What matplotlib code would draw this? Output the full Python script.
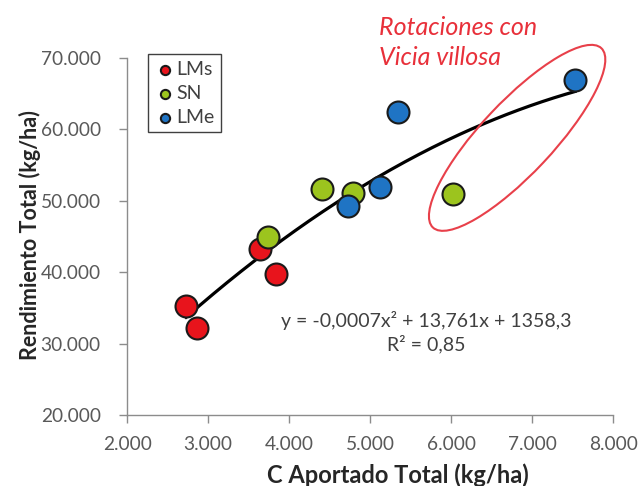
import matplotlib
matplotlib.use("Agg")
import matplotlib.pyplot as plt
import numpy as np
from matplotlib.patches import Ellipse
from matplotlib.transforms import ScaledTranslation
from matplotlib.ticker import FuncFormatter

# data
lms_x = [2728, 2860, 3642, 3840]
lms_y = [35270, 32190, 43200, 39700]
sn_x = [3741, 4407, 4790, 6025]
sn_y = [44970, 51650, 51100, 50950]
lme_x = [4728, 5123, 5346, 7531]
lme_y = [49270, 51930, 62440, 66920]

coef = [-0.0007, 13.761, 1358.3]
x_ticks = [2000, 3000, 4000, 5000, 6000, 7000, 8000]
y_ticks = [20000, 30000, 40000, 50000, 60000, 70000]

plt.rcParams["font.family"] = ["Lato", "DejaVu Sans"]

fig = plt.figure(figsize=(6.42, 4.86), dpi=100)
ax = fig.add_axes([0.198, 0.146, 0.757, 0.735])

series = [
    ("LMs", lms_x, lms_y, "#e8141c"),
    ("SN", sn_x, sn_y, "#9cc41e"),
    ("LMe", lme_x, lme_y, "#1f74c4"),
]

all_x = lms_x + sn_x + lme_x
xs = np.linspace(min(all_x), max(all_x), 200)
ax.plot(xs, np.polyval(coef, xs), color="black", lw=2.3, zorder=2)

for name, x, y, color in series:
    ax.scatter(x, y, s=250, color=color, edgecolor="#1a1a1a", linewidth=1.5,
               zorder=3, label=name)

ax.set_xlim(2000, 8000)
ax.set_ylim(20000, 70000)
ax.set_xticks(x_ticks)
ax.set_yticks(y_ticks)
fmt = FuncFormatter(lambda v, p: f"{int(v):,}".replace(",", "."))
ax.xaxis.set_major_formatter(fmt)
ax.yaxis.set_major_formatter(fmt)
ax.tick_params(colors="#8c8c8c", labelcolor="#595959", labelsize=13.8,
               direction="out", length=6, width=1)
ax.tick_params(axis="x", pad=9)
ax.tick_params(axis="y", pad=13)
for side in ("top", "right"):
    ax.spines[side].set_visible(False)
for side in ("left", "bottom"):
    ax.spines[side].set_color("#8c8c8c")
    ax.spines[side].set_linewidth(1)

ax.set_xlabel("C Aportado Total (kg/ha)", fontsize=17, fontweight="bold",
              color="#262626", va="center")
ax.set_ylabel("Rendimiento Total (kg/ha)", fontsize=15.5, fontweight="bold",
              color="#262626", va="center")
ax.xaxis.set_label_coords(0.558, -0.168)
ax.yaxis.set_label_coords(-0.2, 0.504)

leg = ax.legend(loc="upper left", bbox_to_anchor=(0.043, 1.01), fontsize=14,
                markerscale=0.42, handletextpad=0.1, borderpad=0.35,
                labelspacing=0.35, handlelength=1.0, fancybox=False,
                framealpha=1, borderaxespad=0)
leg.get_frame().set_edgecolor("#404040")
leg.get_frame().set_linewidth(1)
for t in leg.get_texts():
    t.set_color("#404040")

ax.text(0.615, 0.231, "y = -0,0007x² + 13,761x + 1358,3\nR² = 0,85",
        transform=ax.transAxes, ha="center", va="center", fontsize=14,
        color="#404040", linespacing=1.3)

# ellipse drawn in pixel space, centred on a data point
ell_tr = fig.dpi_scale_trans + ScaledTranslation(6815, 58800, ax.transData)
ax.add_patch(Ellipse((0, 0), 2.46, 0.72, angle=46.8, transform=ell_tr,
                     fill=False, edgecolor="#e8404a", lw=1.5, zorder=4,
                     clip_on=False))

fig.text(0.59, 0.944, "Rotaciones con", fontsize=18, style="italic",
         color="#e8303a", ha="left", va="center")
fig.text(0.59, 0.881, "Vicia villosa", fontsize=18, style="italic",
         color="#e8303a", ha="left", va="center")

fig.savefig("out.png", dpi=100)
